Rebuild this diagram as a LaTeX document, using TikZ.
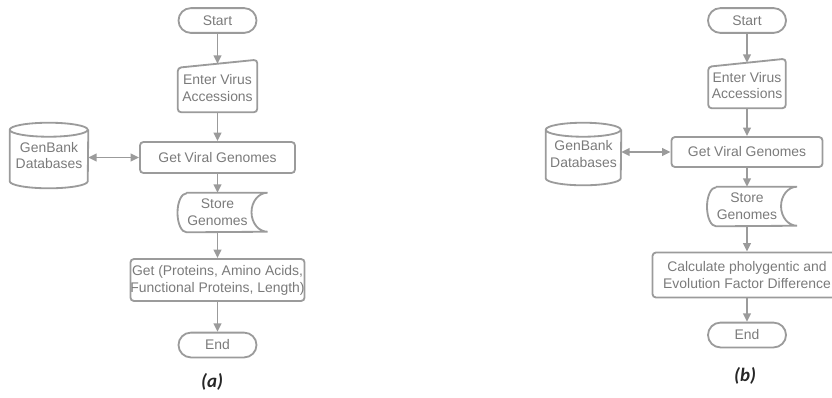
\documentclass[tikz,border=0pt]{standalone}
\usepackage{fontspec}
\setmainfont{Liberation Sans}
\newfontfamily\capfont{Carlito}
\usepackage{tikz}
\usetikzlibrary{
	arrows.meta,
	positioning,
	calc,
	shapes.misc
}
\definecolor{linegray}{HTML}{9B9B9B}
\definecolor{textgray}{HTML}{7A7A7A}

\begin{document}
\begin{tikzpicture}[
		x=0.025cm, y=-0.025cm,
		>={Triangle[length=6pt,width=5.5pt]},
		flow/.style={
			draw=linegray,
			line width=1.3pt
		},
		txt/.style={
			text=textgray,
			font=\fontsize{9.9}{12}\selectfont,
			align=center,
			inner sep=0pt
		},
		terminal/.style={
			txt, flow,
			rounded rectangle,
			minimum width=1.95cm,
			minimum height=0.62cm
		},
		process/.style={
			txt, flow,
			rounded corners=2.5pt
		},
		caption/.style={
			text=black!85,
			font=\capfont\bfseries\itshape\fontsize{13.5}{16}\selectfont
		}
		]
		
		\useasboundingbox (0,0) rectangle (832,397);
		
		% (a) Protein flow
		\node[terminal] (startA) at (217.5,20.5) {Start};
		\node[txt, minimum width=1.975cm, minimum height=1.2cm] (enterA) at (217.5,88) {Enter Virus\\Accessions};
		\node[txt, minimum width=1.95cm, minimum height=1.625cm] (genA) at (49,155.5) {GenBank\\Databases};
		\node[process, minimum width=3.875cm, minimum height=0.775cm] (getA) at (217.5,157.5) {Get Viral Genomes};
		\node[txt, minimum width=2cm, minimum height=0.975cm] (storeA) at (217.5,212.5) {Store\\Genomes};
		\node[process, minimum width=4.05cm, minimum height=1.05cm] (protA) at (217.5,280) {Get (Proteins, Amino Acids,\\Functional Proteins, Length)};
		\node[terminal] (endA) at (217.5,345) {End};
		\node[caption] (capA) at (212,382) {(a)};
		
		% (b) Phylogenetic flow
		\node[terminal] (startB) at (747,20.5) {Start};
		\node[txt, minimum width=1.925cm, minimum height=1.125cm] (enterB) at (747,85.5) {Enter Virus\\Accessions};
		\node[txt, minimum width=1.875cm, minimum height=1.55cm] (genB) at (583.5,154) {GenBank\\Databases};
		\node[process, minimum width=3.775cm, minimum height=0.75cm] (getB) at (747,152) {Get Viral Genomes};
		\node[txt, minimum width=2cm, minimum height=0.975cm] (storeB) at (747,206.5) {Store\\Genomes};
		\node[process, minimum width=4.725cm, minimum height=1.125cm] (calcB) at (747,275) {Calculate pholygentic and\\Evolution Factor Difference};
		\node[terminal] (endB) at (747,335) {End};
		\node[caption] (capB) at (745,376) {(b)};
		
		% Manual input, cylinder and stored data outlines
		\foreach \n in {enterA,enterB}
		\draw[flow, rounded corners=2.5pt] (\n.south west) -- ([yshift=-0.1cm]\n.north west)
			-- ([yshift=0.1cm]\n.north east) -- (\n.south east) -- cycle;
		
		\foreach \n/\r in {genA/0.975cm, genB/0.9375cm}
		\draw[flow] ([yshift=-0.175cm]\n.north west)
			arc[start angle=180, end angle=360, x radius=\r, y radius=0.175cm]
			arc[start angle=0, end angle=180, x radius=\r, y radius=0.175cm]
			-- ([yshift=0.175cm]\n.south west)
			arc[start angle=180, end angle=360, x radius=\r, y radius=0.175cm]
			-- ([yshift=-0.175cm]\n.north east);
		
		\foreach \n in {storeA,storeB}
		\draw[flow] ([xshift=-0.775cm]\n.north) -- ([xshift=1.25cm]\n.north)
			arc[start angle=90, end angle=270, x radius=0.4cm, y radius=0.4875cm]
			-- ([xshift=-0.775cm]\n.south)
			arc[start angle=270, end angle=90, x radius=0.225cm, y radius=0.4875cm];
		
		% Connectors
		\foreach \a/\b in {startA/enterA, enterA/getA, getA/storeA, storeA/protA, protA/endA,
			startB/enterB, enterB/getB, getB/storeB, storeB/calcB, calcB/endB}
		\draw[flow, ->] (\a.south) -- (\b.north);
		
		\draw[flow, <->] (genA.east |- getA.west) -- (getA.west);
		\draw[flow, <->] (genB.east |- getB.west) -- (getB.west);
		
	\end{tikzpicture}
\end{document}
